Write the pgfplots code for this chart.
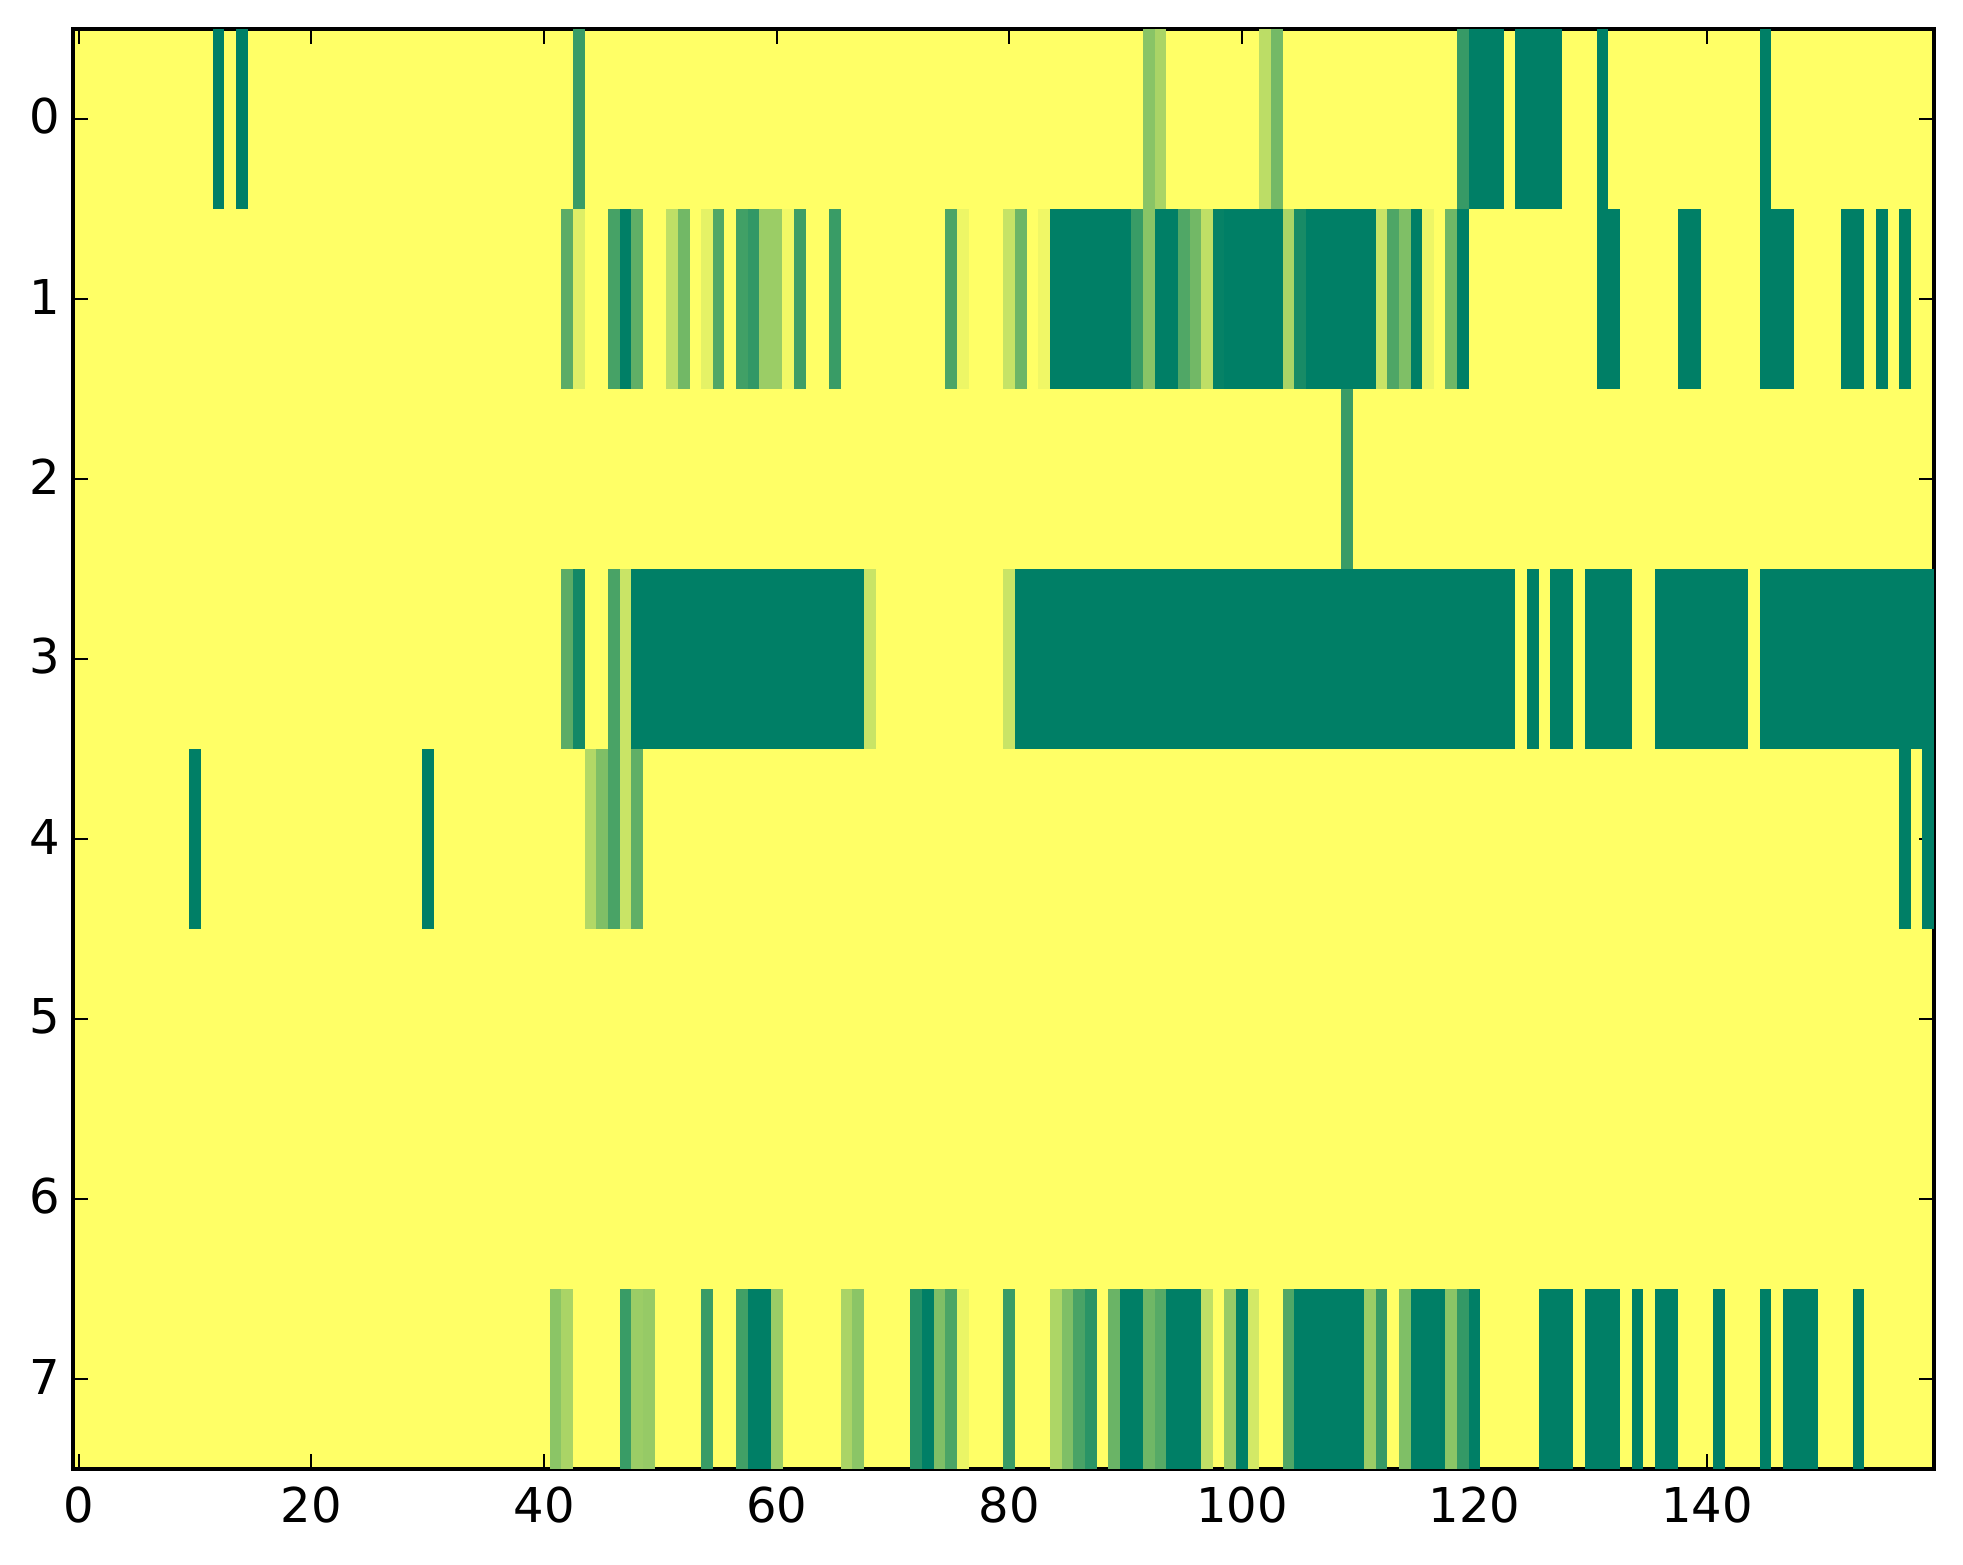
\documentclass[border=0pt]{standalone}
\usepackage{fontspec}
\setmainfont{DejaVu Sans}
\usepackage{pgfplots}
\pgfplotsset{compat=1.18}
\pgfdeclareplotmark{cell}{%
  \pgfpathrectangle{\pgfpoint{-2.93pt}{-45pt}}{\pgfpoint{5.86pt}{90pt}}%
  \pgfusepathqfill}
\pgfplotstableread{
x y c
12 0 1
14 0 1
43 0 .77
92 0 .46
93 0 .33
102 0 .26
103 0 .54
119 0 .78
120 0 1
121 0 1
122 0 1
124 0 1
125 0 1
126 0 1
127 0 1
131 0 1
145 0 1
42 1 .64
43 1 .13
46 1 .72
47 1 1
48 1 .62
51 1 .25
52 1 .55
54 1 .10
55 1 .68
57 1 .74
58 1 .80
59 1 .39
60 1 .39
61 1 .05
62 1 .75
65 1 .77
75 1 .70
76 1 .07
80 1 .22
81 1 .57
83 1 .06
84 1 1
85 1 1
86 1 1
87 1 1
88 1 1
89 1 1
90 1 1
91 1 .77
92 1 .46
93 1 1
94 1 1
95 1 .68
96 1 .55
97 1 .25
98 1 .97
99 1 1
100 1 1
101 1 1
102 1 1
103 1 1
104 1 .33
105 1 .90
106 1 1
107 1 1
108 1 1
109 1 1
110 1 1
111 1 1
112 1 .21
113 1 .69
114 1 .50
115 1 1
116 1 .07
118 1 .56
119 1 1
131 1 1
132 1 1
138 1 1
139 1 1
145 1 1
146 1 1
147 1 1
152 1 1
153 1 1
155 1 1
157 1 1
109 2 .77
42 3 .64
43 3 .92
46 3 .71
47 3 .21
48 3 1
49 3 1
50 3 1
51 3 1
52 3 1
53 3 1
54 3 1
55 3 1
56 3 1
57 3 1
58 3 1
59 3 1
60 3 1
61 3 1
62 3 1
63 3 1
64 3 1
65 3 1
66 3 1
67 3 1
68 3 .21
80 3 .21
81 3 1
82 3 1
83 3 1
84 3 1
85 3 1
86 3 1
87 3 1
88 3 1
89 3 1
90 3 1
91 3 1
92 3 1
93 3 1
94 3 1
95 3 1
96 3 1
97 3 1
98 3 1
99 3 1
100 3 1
101 3 1
102 3 1
103 3 1
104 3 1
105 3 1
106 3 1
107 3 1
108 3 1
109 3 1
110 3 1
111 3 1
112 3 1
113 3 1
114 3 1
115 3 1
116 3 1
117 3 1
118 3 1
119 3 1
120 3 1
121 3 1
122 3 1
123 3 1
125 3 1
127 3 1
128 3 1
130 3 1
131 3 1
132 3 1
133 3 1
136 3 1
137 3 1
138 3 1
139 3 1
140 3 1
141 3 1
142 3 1
143 3 1
145 3 1
146 3 1
147 3 1
148 3 1
149 3 1
150 3 1
151 3 1
152 3 1
153 3 1
154 3 1
155 3 1
156 3 1
157 3 1
158 3 1
159 3 1
10 4 1
30 4 1
44 4 .30
45 4 .50
46 4 .71
47 4 .21
48 4 .62
157 4 1
159 4 1
41 7 .45
42 7 .33
47 7 .77
48 7 .39
49 7 .41
54 7 .77
57 7 .74
58 7 1
59 7 1
60 7 .39
66 7 .33
67 7 .45
72 7 .85
73 7 1
74 7 .50
75 7 .70
76 7 .08
80 7 .77
84 7 .32
85 7 .50
86 7 .71
87 7 .83
89 7 .58
90 7 1
91 7 1
92 7 .56
93 7 .66
94 7 1
95 7 1
96 7 1
97 7 .25
99 7 .40
100 7 1
101 7 .17
104 7 .68
105 7 1
106 7 1
107 7 1
108 7 1
109 7 1
110 7 1
111 7 .39
112 7 .78
114 7 .50
115 7 1
116 7 1
117 7 1
118 7 .45
119 7 .79
120 7 1
126 7 1
127 7 1
128 7 1
130 7 1
131 7 1
132 7 1
134 7 1
136 7 1
137 7 1
141 7 1
145 7 1
147 7 1
148 7 1
149 7 1
153 7 1
}\cells
\begin{document}
\begin{tikzpicture}
\path[use as bounding box] (0,0) rectangle (981.5pt,782pt);
\begin{axis}[
  at={(36.5pt,47.5pt)}, anchor=south west,
  scale only axis, width=930.5pt, height=720pt,
  xmin=-0.5, xmax=159.5, ymin=-0.5, ymax=7.5, y dir=reverse,
  xtick={0,20,40,60,80,100,120,140},
  ytick={0,1,2,3,4,5,6,7},
  tick align=inside,
  major tick length=7.5pt,
  tick style={black, line width=1pt},
  axis line style={black, line width=1.75pt},
  axis on top,
  axis background/.style={fill={rgb,255:red,255;green,255;blue,102}},
  colormap={summerrev}{rgb255=(255,255,102) rgb255=(0,127,102)},
  point meta min=0, point meta max=1,
  tick label style={font=\fontsize{24}{24}\selectfont},
  /pgf/number format/assume math mode=true,
  /pgf/number format/1000 sep={},
  xticklabel style={yshift=-5.4pt},
  yticklabel style={xshift=-3pt, yshift=1.25pt},
]
\addplot[scatter, only marks, mark=cell, scatter src=explicit] table[x=x, y=y, meta=c] {\cells};
\end{axis}
\end{tikzpicture}
\end{document}
